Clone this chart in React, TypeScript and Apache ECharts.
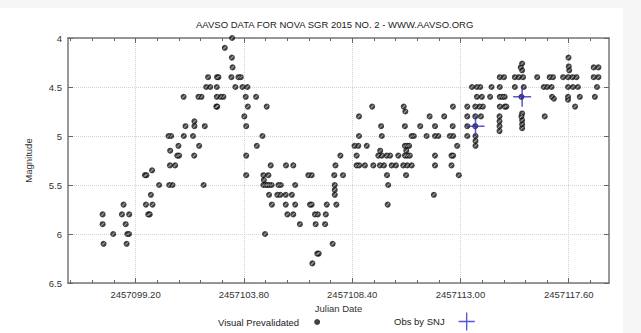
import { useEffect, useRef } from "react";
import * as echarts from "echarts";

// Julian dates are stored as offsets from this base
const JD_BASE = 2457000;
const X_MIN = 2457096.33;
const X_MAX = 2457119.31;
const majorDays = [99.2, 103.8, 108.4, 113.0, 117.6];
const minorDays = [
  96.44, 97.36, 98.28, 100.12, 101.04, 101.96, 102.88, 104.72, 105.64, 106.56,
  107.48, 109.32, 110.24, 111.16, 112.08, 113.92, 114.84, 115.76, 116.68, 118.52,
];
const MAG_MIN = 4;
const MAG_MAX = 6.5;
const MAG_STEP = 0.5;

const TITLE = "AAVSO DATA FOR NOVA SGR 2015 NO. 2 - WWW.AAVSO.ORG";
const X_NAME = "Julian Date";
const Y_NAME = "Magnitude";
const SERIES_VISUAL = "Visual Prevalidated";
const SERIES_SNJ = "Obs by SNJ";

// [day offset, magnitude]
const visualObs: [number, number][] = [
  [97.8, 5.8], [97.8, 5.9], [97.84, 6.1], [98.25, 6.0], [98.69, 5.7], [98.62, 5.8],
  [98.93, 5.8], [98.78, 5.9], [98.85, 6.0], [98.92, 6.0], [98.82, 6.1], [99.6, 5.4],
  [99.66, 5.4], [99.9, 5.35], [100.2, 5.5], [99.85, 5.6], [99.64, 5.7], [99.92, 5.7],
  [99.74, 5.8], [99.8, 5.8],
  [100.63, 5.5], [100.77, 5.5], [102.09, 5.5], [100.66, 5.3], [100.88, 5.3], [100.67, 5.15],
  [100.97, 5.2], [101.05, 5.2], [101.69, 5.2], [101.02, 5.1], [101.9, 5.1], [100.6, 5.0],
  [100.71, 5.0], [101.25, 5.0], [101.64, 5.0], [101.32, 4.9], [101.7, 4.9], [102.14, 4.9],
  [101.7, 4.85], [101.24, 4.6], [101.87, 4.6], [102.0, 4.6], [102.65, 4.6], [102.82, 4.6],
  [102.93, 4.6], [102.63, 4.7], [102.67, 4.7], [102.2, 4.5], [102.37, 4.5], [102.65, 4.5],
  [102.28, 4.4], [102.66, 4.4], [102.72, 4.4], [102.99, 4.1],
  [103.3, 4.0], [103.29, 4.2], [103.32, 4.3], [103.27, 4.4], [103.57, 4.4], [103.67, 4.4],
  [103.44, 4.5], [103.74, 4.5], [103.95, 4.5], [103.88, 4.6], [104.32, 4.6], [103.97, 4.7],
  [104.77, 4.7], [103.82, 4.8], [103.9, 4.9], [104.59, 5.0], [104.35, 5.1], [103.9, 5.2],
  [104.94, 5.3], [105.59, 5.3], [105.9, 5.3], [103.9, 5.4], [104.63, 5.4], [104.84, 5.4],
  [104.65, 5.45], [104.63, 5.5], [104.73, 5.5], [104.8, 5.5], [104.88, 5.5], [104.98, 5.5],
  [105.27, 5.5], [105.37, 5.5], [105.98, 5.5], [104.87, 5.6], [105.22, 5.6], [105.35, 5.6],
  [105.58, 5.6], [105.84, 5.6], [104.99, 5.7], [105.58, 5.7], [105.98, 5.7], [105.65, 5.8],
  [105.9, 5.8], [106.18, 5.9], [104.7, 6.0],
  [106.54, 5.4], [106.68, 5.4], [107.64, 5.4], [108.01, 5.4], [106.61, 5.7], [106.68, 5.7],
  [107.32, 5.7], [106.82, 5.8], [106.94, 5.8], [107.28, 5.8], [106.85, 5.9], [107.25, 5.9],
  [107.57, 6.1], [106.92, 6.2], [106.98, 6.2], [106.71, 6.3], [107.69, 5.3], [108.59, 5.3],
  [108.7, 5.3], [108.94, 5.3], [107.9, 5.2], [108.59, 5.2], [107.66, 5.5], [107.66, 5.55],
  [107.66, 5.6], [107.73, 5.7], [108.69, 4.8], [108.69, 5.0], [108.5, 5.1], [108.66, 5.1],
  [109.02, 5.1], [109.25, 4.7],
  [109.63, 4.9], [109.66, 5.0], [109.3, 5.3], [109.58, 5.3], [109.75, 5.3], [110.08, 5.3],
  [110.26, 5.3], [110.57, 5.3], [110.74, 5.3], [110.93, 5.3], [111.92, 5.3], [109.59, 5.15],
  [109.51, 5.2], [109.66, 5.2], [109.87, 5.2], [110.01, 5.2], [110.36, 5.2], [110.64, 5.2],
  [110.74, 5.2], [110.85, 5.2], [111.92, 5.2], [110.64, 5.1], [110.74, 5.1], [110.82, 5.1],
  [110.7, 5.15], [109.88, 5.4], [110.69, 5.4], [109.93, 5.5], [109.91, 5.7], [110.64, 4.9],
  [111.29, 4.9], [111.92, 4.9], [110.59, 4.7], [110.66, 4.75], [111.69, 4.8], [110.93, 5.0],
  [111.02, 5.0], [111.56, 5.0], [111.92, 5.0], [112.06, 5.0], [111.87, 5.6],
  [112.31, 4.8], [112.67, 4.9], [112.55, 5.0], [112.69, 5.0], [112.86, 5.1], [112.62, 5.2],
  [112.69, 5.2], [112.62, 5.3], [112.93, 5.4], [112.68, 4.7], [113.29, 4.7], [113.29, 4.8],
  [113.29, 4.9], [113.29, 5.0], [113.49, 4.5], [113.7, 4.5], [113.84, 4.5], [114.32, 4.5],
  [114.67, 4.5], [113.7, 4.6], [113.91, 4.6], [114.26, 4.6], [114.67, 4.6], [114.78, 4.6],
  [114.88, 4.6], [113.63, 4.7], [113.81, 4.7], [113.95, 4.7], [114.67, 4.7], [114.88, 4.7],
  [114.95, 4.7], [113.63, 4.8], [113.87, 4.8], [114.66, 4.8], [113.63, 4.9], [114.66, 4.9],
  [113.64, 5.0], [113.64, 5.05], [113.64, 5.1], [114.67, 4.4], [114.85, 4.4], [114.66, 4.85],
  [114.66, 4.95],
  [115.31, 4.4], [115.48, 4.4], [115.66, 4.4], [116.26, 4.4], [116.79, 4.4], [116.93, 4.4],
  [117.36, 4.4], [117.57, 4.4], [117.76, 4.4], [117.93, 4.4], [118.66, 4.4], [118.86, 4.4],
  [115.31, 4.5], [115.69, 4.5], [116.54, 4.5], [116.68, 4.5], [116.87, 4.5], [117.57, 4.5],
  [117.78, 4.5], [117.99, 4.5], [118.8, 4.5], [115.59, 4.6], [116.89, 4.6], [116.97, 4.62],
  [117.57, 4.6], [118.07, 4.6], [118.71, 4.6], [117.87, 4.7], [115.59, 4.8], [116.58, 4.8],
  [115.62, 4.77], [115.62, 4.84], [115.62, 4.88], [115.62, 4.92], [117.59, 4.2], [115.56, 4.3],
  [115.62, 4.26], [115.62, 4.33], [118.66, 4.3], [118.86, 4.3], [117.6, 4.29], [117.62, 4.33],
  [117.57, 4.63],
];

const snjObs: [number, number][] = [
  [113.64, 4.9],
  [115.62, 4.6],
];

const FONT = "'Liberation Sans', Arial, Helvetica, sans-serif";
const CROSS = "path://M8.25,0h1.5v20h-1.5zM0,9.25h18v1.5h-18z";
const SLASH = "path://M0,7L7,0L9,2L2,9Z";

export default function App() {
  const ref = useRef<HTMLDivElement>(null);

  useEffect(() => {
    if (!ref.current) return;
    const chart = echarts.init(ref.current, null, { renderer: "svg" });

    const visualData = visualObs.map(([d, m]) => [JD_BASE + d, m]);
    const snjData = snjObs.map(([d, m]) => [JD_BASE + d, m]);
    const major = majorDays.map((d) => JD_BASE + d);
    const minor = minorDays.map((d) => JD_BASE + d);

    const frame = { color: "#777", width: 1.5 };
    const tick = { color: "#666", width: 1 };
    const grid = { color: "#d4d4d4", type: "dotted" as const, width: 1 };
    const txt = { fontSize: 9.5, color: "#333", fontFamily: FONT };

    const extraX = (position: "top" | "bottom", values: number[], len: number, line: boolean) => ({
      type: "value" as const,
      position,
      min: X_MIN,
      max: X_MAX,
      axisLine: { show: line, onZero: false, lineStyle: frame },
      axisTick: { show: true, inside: true, length: len, customValues: values, lineStyle: tick },
      axisLabel: { show: false },
      splitLine: { show: false },
    });

    chart.setOption({
      animation: false,
      backgroundColor: "#ffffff",
      title: {
        text: TITLE,
        left: 196,
        top: 19,
        padding: 0,
        textStyle: { fontSize: 9.5, fontWeight: "normal", color: "#222", fontFamily: FONT },
      },
      graphic: [
        { type: "rect", x: 0, y: 0, shape: { width: 641, height: 8 }, style: { fill: "#f6f6f6" }, silent: true },
        { type: "rect", x: 623, y: 0, shape: { width: 18, height: 333 }, style: { fill: "#f6f6f6" }, silent: true },
      ],
      grid: { left: 68, right: 32, top: 38, bottom: 50 },
      xAxis: [
        {
          type: "value",
          position: "bottom",
          min: X_MIN,
          max: X_MAX,
          name: X_NAME,
          nameLocation: "middle",
          nameGap: 19,
          nameTextStyle: txt,
          axisLine: { show: true, onZero: false, lineStyle: frame },
          axisTick: { show: true, inside: true, length: 5, customValues: major, lineStyle: tick },
          axisLabel: {
            customValues: major,
            formatter: (v: number) => v.toFixed(2),
            margin: 6,
            ...txt,
          },
          splitLine: { show: true, lineStyle: grid },
        },
        extraX("top", major, 5, true),
        extraX("bottom", minor, 3, false),
        extraX("top", minor, 3, false),
      ],
      yAxis: [
        {
          type: "value",
          position: "left",
          inverse: true,
          min: MAG_MIN,
          max: MAG_MAX,
          interval: MAG_STEP,
          name: Y_NAME,
          nameLocation: "middle",
          nameRotate: 90,
          nameGap: 35,
          nameTextStyle: txt,
          axisLine: { show: true, onZero: false, lineStyle: frame },
          axisTick: { show: true, inside: true, length: 5, lineStyle: tick },
          axisLabel: { margin: 6, ...txt },
          splitLine: { show: true, lineStyle: grid },
        },
        {
          type: "value",
          position: "right",
          inverse: true,
          min: MAG_MIN,
          max: MAG_MAX,
          interval: MAG_STEP,
          axisLine: { show: true, onZero: false, lineStyle: frame },
          axisTick: { show: true, inside: true, length: 5, lineStyle: tick },
          axisLabel: { show: false },
          splitLine: { show: false },
        },
      ],
      legend: [
        {
          data: [SERIES_VISUAL],
          left: 218,
          top: 317,
          padding: 0,
          align: "right",
          itemWidth: 6,
          itemHeight: 6,
          selectedMode: false,
          textStyle: { ...txt, color: "#222", padding: [0, 10, 0, 0] },
        },
        {
          data: [SERIES_SNJ],
          left: 394,
          top: 312.5,
          padding: 0,
          align: "right",
          itemWidth: 18,
          itemHeight: 18,
          selectedMode: false,
          textStyle: { ...txt, color: "#222", padding: [0, 8, 0, 0] },
        },
      ],
      series: [
        {
          type: "scatter",
          name: SERIES_VISUAL,
          data: visualData,
          symbol: "circle",
          symbolSize: 6,
          itemStyle: { color: "#111" },
          z: 2,
        },
        {
          type: "scatter",
          name: "hatch",
          data: visualData,
          symbol: SLASH,
          symbolSize: 3.5,
          itemStyle: { color: "#ffffff", opacity: 0.5 },
          silent: true,
          z: 3,
        },
        {
          type: "scatter",
          name: SERIES_SNJ,
          data: snjData,
          symbol: CROSS,
          symbolSize: [18, 20],
          itemStyle: { color: "#2a2acc" },
          z: 4,
        },
      ],
    });

    return () => chart.dispose();
  }, []);

  return (
    <div
      ref={ref}
      style={{ position: "absolute", left: 0, top: 0, width: 641, height: 333 }}
    />
  );
}
